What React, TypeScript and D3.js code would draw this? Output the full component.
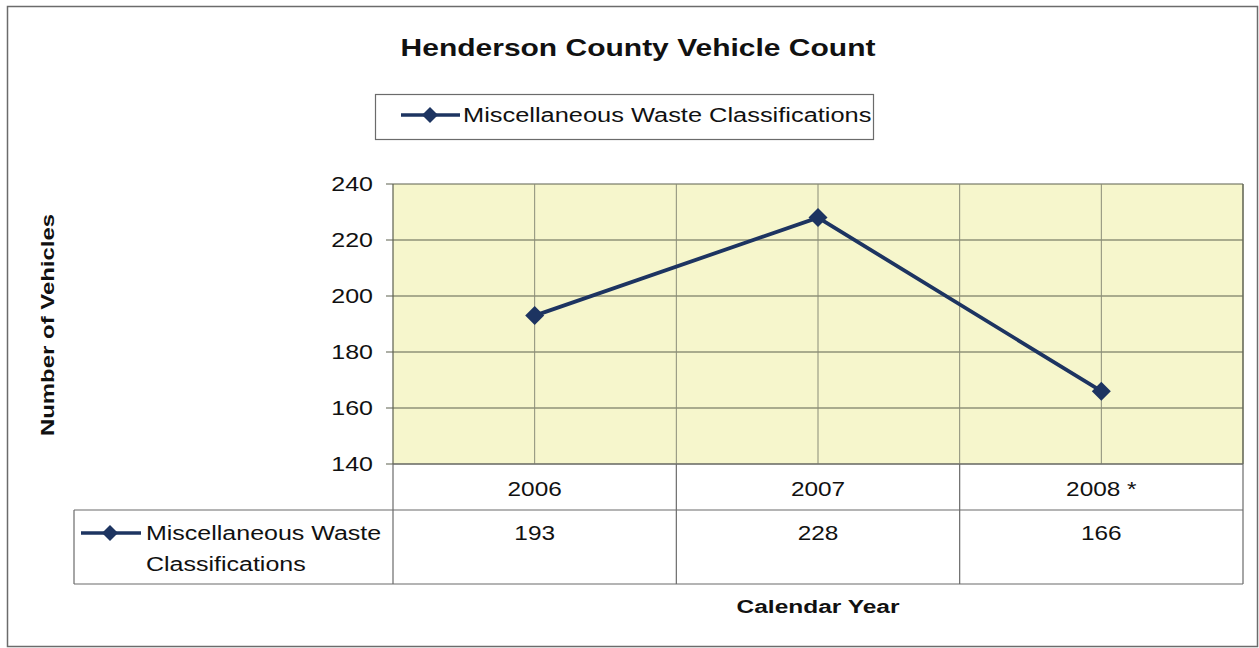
import React from "react";
import * as d3 from "d3";

const title = "Henderson County Vehicle Count";
const seriesName = "Miscellaneous Waste Classifications";
const categories = ["2006", "2007", "2008 *"];
const values = [193, 228, 166];
const yTicks = [140, 160, 180, 200, 220, 240];
const yLabel = "Number of Vehicles";
const xLabel = "Calendar Year";

const FONT = "'Liberation Sans', Arial, sans-serif";
const LINE = "#1d3461";
const GRID = "#5d604f";
const BORDER = "#6b6b6b";

function T(props: {
  x: number; y: number; children: React.ReactNode; size: number;
  anchor?: "start" | "middle" | "end"; bold?: boolean; sx?: number; rot?: number;
}) {
  const { x, y, children, size, anchor = "start", bold = false, sx = 1.26, rot = 0 } = props;
  return (
    <g transform={`translate(${x},${y}) rotate(${rot}) scale(${sx},1)`}>
      <text textAnchor={anchor} fontSize={size} fontWeight={bold ? "bold" : "normal"} fill="#111">{children}</text>
    </g>
  );
}

export default function App() {
  const W = 1259, H = 648;
  const left = 393, right = 1243, top = 184, bottom = 464;
  const x = d3.scaleBand<string>().domain(categories).range([left, right]);
  const y = d3.scaleLinear().domain([140, 240]).range([bottom, top]);
  const cx = (c: string) => (x(c) as number) + x.bandwidth() / 2;
  const line = d3.line<number>().x((_, i) => cx(categories[i])).y((v) => y(v));

  const halfLines: number[] = [];
  categories.forEach((c) => {
    halfLines.push(cx(c));
    halfLines.push((x(c) as number) + x.bandwidth());
  });

  const row1Top = bottom, row1Bot = 510, row2Bot = 584, tableLeft = 74;
  const diamond = (px: number, py: number, r: number) =>
    `M${px},${py - r}L${px + r},${py}L${px},${py + r}L${px - r},${py}Z`;

  return (
    <svg width={W} height={H} style={{ position: "absolute", left: 0, top: 0, background: "#fff" }} fontFamily={FONT}>
      <rect x={7.5} y={6.5} width={1250} height={640} fill="#fff" stroke={BORDER} strokeWidth={1.5} />
      <T x={638} y={56} anchor="middle" size={24} bold sx={1.25}>{title}</T>

      {/* top legend */}
      <rect x={375.5} y={94.5} width={498} height={45} fill="#fff" stroke={BORDER} strokeWidth={1.2} />
      <line x1={401} x2={460} y1={115} y2={115} stroke={LINE} strokeWidth={3.5} />
      <path d={diamond(430, 115, 8)} fill={LINE} />
      <T x={463} y={122} size={20} sx={1.27}>{seriesName}</T>

      {/* plot area */}
      <rect x={left} y={top} width={right - left} height={bottom - top} fill="#f6f6cc" />
      {yTicks.map((t) => (
        <g key={t}>
          <line x1={386} x2={right} y1={y(t)} y2={y(t)} stroke={GRID} strokeWidth={1.2} />
          <T x={373} y={y(t) + 7} anchor="end" size={20} sx={1.25}>{t}</T>
        </g>
      ))}
      {halfLines.map((gx, i) => (
        <line key={i} x1={gx} x2={gx} y1={top} y2={bottom} stroke="#8a8c78" strokeWidth={1} />
      ))}
      <line x1={left} x2={left} y1={top} y2={bottom} stroke={GRID} strokeWidth={1.2} />
      <line x1={right} x2={right} y1={top} y2={bottom} stroke={GRID} strokeWidth={1.2} />

      <path d={line(values) || ""} fill="none" stroke={LINE} strokeWidth={3.8} />
      {values.map((v, i) => (
        <path key={i} d={diamond(cx(categories[i]), y(v), 9.5)} fill={LINE} />
      ))}

      {/* data table */}
      <g stroke={BORDER} strokeWidth={1.2} fill="none">
        <line x1={left} x2={right} y1={row1Top} y2={row1Top} />
        <line x1={tableLeft} x2={right} y1={row1Bot} y2={row1Bot} />
        <line x1={tableLeft} x2={right} y1={row2Bot} y2={row2Bot} />
        <line x1={tableLeft} x2={tableLeft} y1={row1Bot} y2={row2Bot} />
        <line x1={left} x2={left} y1={row1Top} y2={row2Bot} />
        {categories.map((c) => (
          <line key={c} x1={(x(c) as number) + x.bandwidth()} x2={(x(c) as number) + x.bandwidth()} y1={row1Top} y2={row2Bot} />
        ))}
      </g>
      {categories.map((c, i) => (
        <g key={c}>
          <T x={cx(c)} y={496} anchor="middle" size={20} sx={1.22}>{c}</T>
          <T x={cx(c)} y={540} anchor="middle" size={20} sx={1.22}>{values[i]}</T>
        </g>
      ))}
      <line x1={81} x2={141} y1={533} y2={533} stroke={LINE} strokeWidth={3.5} />
      <path d={diamond(110, 533, 8)} fill={LINE} />
      <T x={146} y={540} size={20} sx={1.25}>Miscellaneous Waste</T>
      <T x={146} y={571} size={20} sx={1.25}>Classifications</T>

      <T x={818} y={613} anchor="middle" size={19} bold sx={1.29}>{xLabel}</T>
      <T x={54} y={325} anchor="middle" size={19} bold sx={1.26} rot={-90}>{yLabel}</T>
    </svg>
  );
}
